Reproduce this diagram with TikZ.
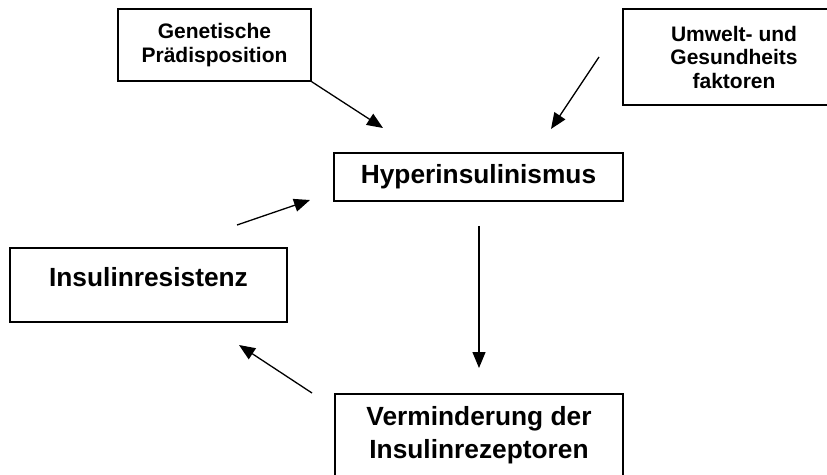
\documentclass[tikz,border=0pt]{standalone}
\usepackage{fontspec}
\setmainfont{Liberation Sans}
\usetikzlibrary{arrows.meta}
\newcommand{\grosstext}{\fontsize{26.3}{33}\selectfont\bfseries}
\newcommand{\kleintext}{\fontsize{21}{23.5}\selectfont\bfseries}
\tikzset{
every picture/.style={x=1pt, y=-1pt},
%%%%%%%%%%  Node styles
kasten/.style={draw, line width=1.5pt, rectangle, inner sep=0pt, align=center},
kleinkasten/.style={kasten, font=\kleintext},
grosskasten/.style={kasten, font=\grosstext},
%%%%%%%%%%  Arrow styles
pfeil/.style={line width=1.3pt, -{Triangle[length=16pt, width=13pt]}}
}

\begin{document}
\begin{tikzpicture}
\useasboundingbox (0,0) rectangle (827,474);
\clip (0,0) rectangle (827,474);
%% boxes
\node[kleinkasten, minimum width=193pt, minimum height=72pt] (gen) at (214.5,45)
  {Genetische\\Prädisposition};
\node[kleinkasten, minimum width=222pt, minimum height=96pt] (umw) at (734,57)
  {Umwelt- und\\Gesundheits\\faktoren};
\node[grosskasten, minimum width=289pt, minimum height=48pt] (hyper) at (478.5,177)
  {Hyperinsulinismus};
\node[grosskasten, minimum width=277pt, minimum height=74pt, text depth=16pt] (insres) at (148.5,285)
  {Insulinresistenz};
%% box runs past the lower edge
\node[grosskasten, anchor=north, minimum width=288pt, inner ysep=12.5pt, text depth=60pt] (verm) at (479,393)
  {Verminderung der\\Insulinrezeptoren};
%% free arrow ends
\coordinate (gen tip) at (383,128);
\coordinate (umw start) at (599,57);
\coordinate (umw tip) at (551,129);
\coordinate (ins start) at (237,225);
\coordinate (ins tip) at (310,200);
\coordinate (verm start) at (312,393);
\coordinate (verm tip) at (239,345);
%% arrows
\draw[pfeil] (gen.south east) -- (gen tip);
\draw[pfeil] (umw start) -- (umw tip);
\draw[pfeil] (ins start) -- (ins tip);
\draw[pfeil, shorten <=24pt, shorten >=25pt] (verm.north |- hyper.south) -- (verm.north);
\draw[pfeil] (verm start) -- (verm tip);
\end{tikzpicture}
\end{document}
